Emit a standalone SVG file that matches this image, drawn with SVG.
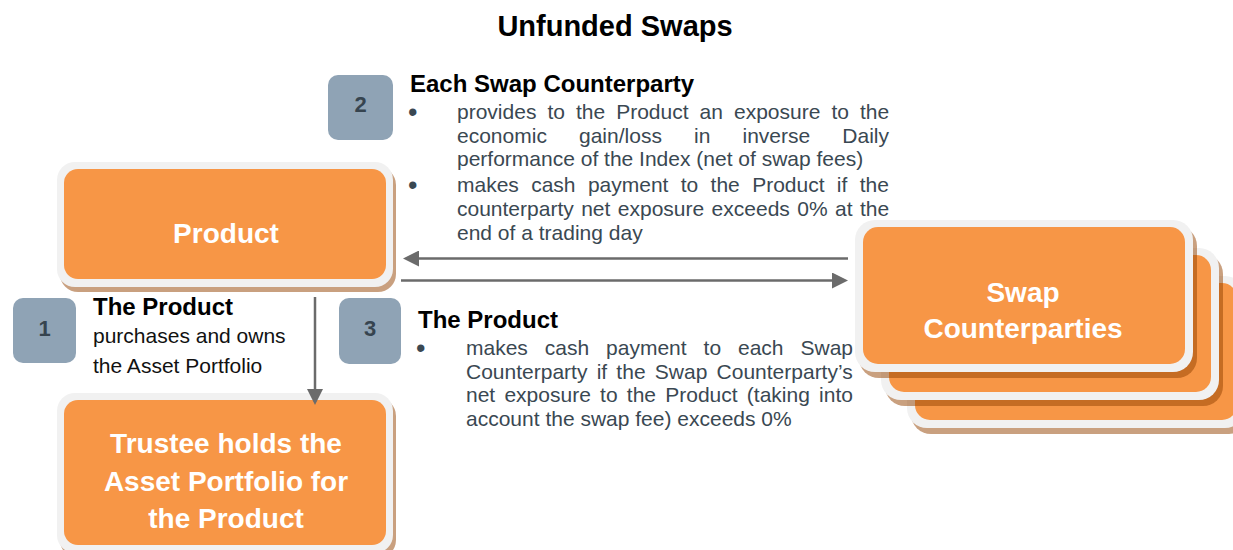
<svg xmlns="http://www.w3.org/2000/svg" width="1233" height="550" viewBox="0 0 1233 550">
<defs>
<style>
.shadow{fill:#934100;opacity:.5}
.frame{fill:#f1f1f1}
.fill{fill:#f79646}
.badge{fill:#8fa3b5}
.num{font-family:"Liberation Sans",Arial,sans-serif;font-weight:bold;font-size:22px;fill:#36444f;text-anchor:middle}
.box{font-family:"Liberation Sans",Arial,sans-serif;font-weight:bold;font-size:28px;fill:#ffffff;text-anchor:middle}
.title{font-family:"Liberation Sans",Arial,sans-serif;font-weight:bold;font-size:29px;fill:#000;text-anchor:middle}
.head{font-family:"Liberation Sans",Arial,sans-serif;font-weight:bold;font-size:24px;fill:#000}
.body{font-family:"Liberation Sans",Arial,sans-serif;font-size:21px;fill:#3a4852}
.bullet{font-family:"Liberation Sans",Arial,sans-serif;font-size:27px;fill:#3a4852}
.plain{font-family:"Liberation Sans",Arial,sans-serif;font-size:21px;fill:#111}
.conn{stroke:#6b6b6b;stroke-width:2.5;fill:none}
</style>
<marker id="arr" viewBox="0 0 16 16" refX="13" refY="8" markerWidth="16" markerHeight="16" markerUnits="userSpaceOnUse" orient="auto">
<path d="M0,0 L16,8 L0,16 z" fill="#6b6b6b"/>
</marker>
</defs>
<rect width="1233" height="550" fill="#ffffff"/>

<text class="title" x="615" y="36">Unfunded Swaps</text>

<g id="product">
<rect class="shadow" x="60" y="167" width="336" height="125" rx="18"/>
<rect class="frame" x="57" y="162" width="336" height="125" rx="18"/>
<rect class="fill" x="64" y="169" width="322" height="110" rx="14"/>
<text class="box" x="226" y="243" font-size="29">Product</text>
</g>

<g id="trustee">
<rect class="shadow" x="60" y="398" width="336" height="160" rx="18"/>
<rect class="frame" x="57" y="393" width="336" height="160" rx="18"/>
<rect class="fill" x="64" y="400" width="322" height="145" rx="14"/>
<text class="box" x="226" y="453">Trustee holds the</text>
<text class="box" x="226" y="491">Asset Portfolio for</text>
<text class="box" x="226" y="528">the Product</text>
</g>

<g id="swap-counterparties">
<rect class="shadow" x="911" y="282" width="338" height="152" rx="20"/>
<rect class="frame" x="907" y="276" width="338" height="152" rx="20"/>
<rect class="fill" x="915" y="283" width="322" height="137" rx="15"/>
<rect class="shadow" x="885" y="254" width="338" height="152" rx="20"/>
<rect class="frame" x="881" y="248" width="338" height="152" rx="20"/>
<rect class="fill" x="889" y="255" width="322" height="137" rx="15"/>
<rect class="shadow" x="859" y="226" width="338" height="152" rx="20"/>
<rect class="frame" x="855" y="220" width="338" height="152" rx="20"/>
<rect class="fill" x="863" y="227" width="322" height="137" rx="15"/>
<text class="box" x="1023" y="302" font-size="29">Swap</text>
<text class="box" x="1023" y="338" font-size="29">Counterparties</text>
</g>

<g id="badge-1">
<rect class="badge" x="13" y="298" width="63" height="65" rx="10"/>
<text class="num" x="44.5" y="336">1</text>
</g>
<g id="badge-2">
<rect class="badge" x="328" y="75" width="65" height="65" rx="10"/>
<text class="num" x="360.5" y="112">2</text>
</g>
<g id="badge-3">
<rect class="badge" x="339" y="298" width="62" height="66" rx="10"/>
<text class="num" x="370" y="336">3</text>
</g>

<g id="text-1">
<text class="head" x="93" y="315">The Product</text>
<text class="plain" x="93" y="343">purchases and owns</text>
<text class="plain" x="93" y="373">the Asset Portfolio</text>
</g>

<g id="text-2">
<text class="head" x="410" y="92">Each Swap Counterparty</text>
<text class="bullet" x="408" y="121">•</text>
<text class="body" x="457" y="119" word-spacing="5.2">provides to the Product an exposure to the</text>
<text class="body" x="457" y="142.5" word-spacing="26.3">economic gain/loss in inverse Daily</text>
<text class="body" x="457" y="166">performance of the Index (net of swap fees)</text>
<text class="bullet" x="408" y="193.5">•</text>
<text class="body" x="457" y="191.5" word-spacing="6.5">makes cash payment to the Product if the</text>
<text class="body" x="457" y="215.5" word-spacing="1.6">counterparty net exposure exceeds 0% at the</text>
<text class="body" x="457" y="239.5">end of a trading day</text>
</g>

<g id="text-3">
<text class="head" x="418" y="328">The Product</text>
<text class="bullet" x="416" y="357">•</text>
<text class="body" x="466" y="355" word-spacing="11.1">makes cash payment to each Swap</text>
<text class="body" x="466" y="378.5" word-spacing="3.4">Counterparty if the Swap Counterparty’s</text>
<text class="body" x="466" y="402" word-spacing="3.4">net exposure to the Product (taking into</text>
<text class="body" x="466" y="425.5">account the swap fee) exceeds 0%</text>
</g>

<g id="connectors">
<line class="conn" x1="848" y1="258.5" x2="406" y2="258.5" marker-end="url(#arr)"/>
<line class="conn" x1="401" y1="280.5" x2="845" y2="280.5" marker-end="url(#arr)"/>
<line class="conn" x1="315" y1="297" x2="315" y2="402" marker-end="url(#arr)"/>
</g>
</svg>
